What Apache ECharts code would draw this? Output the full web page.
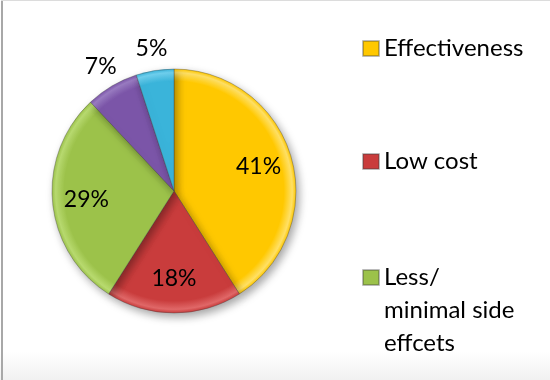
<!DOCTYPE html>
<html><head><meta charset="utf-8">
<script src="https://cdn.jsdelivr.net/npm/echarts@6/dist/echarts.min.js"></script>
<style>html,body{margin:0;padding:0;background:#fff}#c{width:550px;height:380px}</style>
</head><body><div id="c"></div>
<script>
// Data
const categories = ['Effectiveness', 'Low cost', 'Less/minimal side effcets', 'Other A', 'Other B'];
const values = [41, 18, 29, 7, 5];
const legendNames = ['Effectiveness', 'Low cost', 'Less/minimal side effcets'];
const legendLabels = ['Effectiveness', 'Low cost', ' \n \nLess/\nminimal side\neffcets'];
const insideLabel = [true, true, true, false, false];

const baseColors = ['#FFC800', '#C93C3C', '#9CC24A', '#7B55A8', '#3AB4DA'];
const rimColors  = ['#FFE066', '#E06868', '#B9DB70', '#9A7BC2', '#6FD0EE'];

const C = [174, 191], R = 122;

function grad(i) {
  return {
    type: 'radial', x: C[0], y: C[1], r: R, global: true,
    colorStops: [
      {offset: 0, color: baseColors[i]},
      {offset: 0.9, color: baseColors[i]},
      {offset: 0.97, color: rimColors[i]},
      {offset: 1, color: baseColors[i]}
    ]
  };
}

const chart = echarts.init(document.getElementById('c'), null, {renderer: 'canvas'});
const font = 'Lato, "Open Sans", sans-serif';

const pieData = categories.map((n, i) => ({
  name: n, value: values[i],
  itemStyle: {color: grad(i)}
}));
const innerLabelData = categories.map((n, i) => ({
  name: n, value: values[i],
  label: {show: insideLabel[i]}
}));
const outerLabelData = categories.map((n, i) => ({
  name: n, value: values[i],
  label: {show: !insideLabel[i]}
}));

function legendFor(idx, top) {
  return {
    data: [legendNames[idx]],
    left: 357, top: top,
    orient: 'vertical',
    icon: 'rect', itemWidth: 16, itemHeight: 15,
    selectedMode: false,
    formatter: () => legendLabels[idx],
    textStyle: {fontFamily: font, fontSize: 24, color: '#000', lineHeight: 33}
  };
}

chart.setOption({
  backgroundColor: '#fff',
  animation: false,
  color: baseColors,
  legend: [
    legendFor(0, 27),
    legendFor(1, 140),
    legendFor(2, 190)
  ],
  graphic: [
    {type: 'rect', shape: {x: 0, y: 352, width: 550, height: 28}, silent: true, z: -1,
      style: {fill: {type: 'linear', x: 0, y: 0, x2: 0, y2: 1,
        colorStops: [{offset: 0, color: '#ffffff'}, {offset: 1, color: '#f1f1f1'}]}}},
    {type: 'rect', shape: {x: 1, y: 0, width: 2, height: 380}, style: {fill: '#a8a8a8'}, silent: true},
    {type: 'rect', shape: {x: 1, y: 0, width: 549, height: 1}, style: {fill: '#dcdcdc'}, silent: true}
  ],
  series: [
    {
      type: 'pie', name: 'main',
      center: C, radius: R,
      startAngle: 90, clockwise: true,
      label: {show: false}, labelLine: {show: false},
      emphasis: {disabled: true},
      itemStyle: {
        borderColor: 'rgba(60,60,60,0.35)', borderWidth: 1,
        shadowBlur: 8, shadowColor: 'rgba(0,0,0,0.35)', shadowOffsetX: 3, shadowOffsetY: 4
      },
      data: pieData
    },
    {
      type: 'pie', name: 'innerLabels', silent: true,
      center: C, radius: [48, R],
      startAngle: 90, clockwise: true,
      itemStyle: {color: 'rgba(0,0,0,0)'},
      label: {show: true, position: 'inside', formatter: p => p.value + '%',
        fontFamily: font, fontSize: 23, color: '#000'},
      labelLine: {show: false},
      emphasis: {disabled: true},
      data: innerLabelData
    },
    {
      type: 'pie', name: 'outerLabels', silent: true,
      center: C, radius: [R, R + 38],
      startAngle: 90, clockwise: true,
      itemStyle: {color: 'rgba(0,0,0,0)'},
      label: {show: true, position: 'inside', formatter: p => p.value + '%',
        fontFamily: font, fontSize: 23, color: '#000'},
      labelLine: {show: false},
      emphasis: {disabled: true},
      data: outerLabelData
    }
  ]
});
</script></body></html>
